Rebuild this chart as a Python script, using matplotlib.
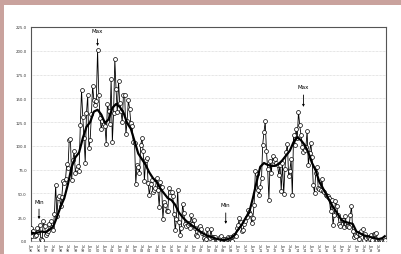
import numpy as np
import matplotlib
matplotlib.use('Agg')
import matplotlib.pyplot as plt
from matplotlib.patches import Rectangle

# monthly values, Jan 1996 .. Dec 2019
monthly = [
    13.2, 5.1, 10.6, 5.5, 6.3, 13.6, 9.4, 16.6, 1.8, 1.0, 20.6, 15.3,          # 1996
    6.6, 8.7, 10.0, 17.8, 21.3, 14.6, 12.0, 28.1, 59.0, 26.2, 44.9, 47.4,     # 1997
    36.7, 46.3, 63.0, 61.4, 64.7, 81.3, 76.6, 106.0, 106.8, 63.8, 85.1, 94.2, # 1998
    71.3, 76.2, 79.1, 73.3, 122.4, 158.4, 130.5, 107.8, 82.2, 134.2, 153.2, 97.3,  # 1999
    106.3, 133.2, 163.4, 148.1, 143.5, 147.4, 200.7, 154.0, 129.4, 117.3, 126.0, 123.2,  # 2000
    121.4, 102.4, 144.1, 136.8, 122.7, 170.2, 103.9, 135.1, 191.4, 159.4, 135.3, 167.9,  # 2001
    144.9, 136.4, 125.0, 153.3, 153.4, 112.1, 126.5, 147.8, 139.2, 123.8, 120.7, 103.6,  # 2002
    103.4, 60.1, 80.0, 78.0, 71.8, 100.6, 108.3, 94.5, 63.3, 85.2, 87.5, 60.5,   # 2003
    48.5, 59.5, 63.8, 51.1, 54.0, 56.2, 66.4, 53.2, 36.0, 62.4, 56.6, 23.3,      # 2004
    40.7, 38.0, 31.9, 31.7, 55.4, 51.5, 51.9, 47.3, 28.7, 11.1, 23.4, 53.6,      # 2005
    19.9, 6.4, 13.8, 39.3, 29.0, 18.1, 15.9, 16.8, 18.7, 13.7, 27.8, 17.7,       # 2006
    22.0, 13.8, 6.2, 4.8, 15.2, 15.6, 13.0, 8.1, 3.1, 1.2, 2.2, 13.1,            # 2007
    4.3, 2.7, 12.1, 3.8, 4.2, 4.4, 1.0, 0.7, 1.4, 3.8, 5.3, 1.0,                 # 2008
    2.0, 1.8, 0.9, 1.6, 3.8, 3.4, 4.6, 0.0, 5.5, 6.0, 5.5, 13.8,                 # 2009
    17.0, 24.2, 20.0, 10.3, 11.4, 17.6, 20.9, 25.5, 32.8, 30.6, 28.1, 18.9,      # 2010
    24.7, 38.2, 73.1, 70.7, 54.1, 48.1, 57.1, 65.8, 101.4, 114.4, 125.7, 94.9,   # 2011
    75.8, 42.8, 83.6, 71.8, 89.7, 83.9, 86.5, 81.9, 79.8, 69.3, 80.3, 53.0,      # 2012
    81.8, 49.4, 75.3, 94.1, 102.3, 68.3, 74.1, 85.8, 48.1, 111.3, 100.9, 117.4,  # 2013
    108.2, 135.7, 121.7, 111.8, 99.3, 93.7, 95.6, 98.5, 115.6, 80.0, 92.4, 103.0,  # 2014
    88.4, 59.1, 50.7, 71.8, 77.6, 55.2, 54.6, 53.5, 65.2, 52.8, 51.6, 48.1,      # 2015
    47.3, 46.8, 44.9, 31.5, 42.7, 17.0, 26.9, 41.7, 37.0, 27.7, 17.8, 15.4,      # 2016
    21.7, 21.9, 14.7, 26.8, 15.7, 15.9, 14.8, 27.1, 36.3, 11.0, 4.7, 6.8,        # 2017
    5.6, 8.9, 2.1, 7.4, 10.9, 12.9, 1.3, 7.2, 2.7, 4.1, 4.1, 2.6,                # 2018
    6.4, 0.7, 7.8, 7.6, 8.2, 1.0, 0.7, 0.4, 0.9, 0.3, 0.4, 1.2,                  # 2019
]

# smoothed curve, read every 3 months (plus the last month)
smooth_month = list(range(0, 288, 3)) + [287]
smooth = [
    9, 8, 9, 10, 9, 12, 15, 25, 36, 45, 60, 78,
    88, 93, 108, 120, 125, 136, 138, 133, 124, 128, 140, 144,
    141, 135, 124, 118, 105, 92, 86, 80, 72, 66, 62, 55,
    50, 45, 43, 38, 30, 25, 21, 18, 15, 12, 9, 7,
    5, 4, 2.5, 1.5, 1, 1.5, 3, 6, 12, 17, 24, 30,
    45, 62, 78, 82, 80, 79, 79, 81, 85, 90, 95, 104,
    109, 106, 101, 93, 82, 74, 62, 55, 48, 40, 34, 28,
    22, 20, 19, 18, 10, 8, 6, 5, 4, 3, 2, 3, 5,
]

tick_months = list(range(0, 288, 6))
tick_labels = [('Jan' if m % 12 == 0 else 'Jul') + '\n' + '%02d' % ((96 + m // 12) % 100)
               for m in tick_months]

pink = '#c9a29d'

fig = plt.figure(figsize=(4.01, 2.55), dpi=100)
fig.patch.set_facecolor(pink)
fig.patches.append(Rectangle((4 / 401, 0), 1, 249 / 255, transform=fig.transFigure,
                             facecolor='white', edgecolor='none', zorder=-5))

ax = fig.add_axes([31 / 401, 13 / 255, 355 / 401, 214 / 255])
ax.set_zorder(5)
ax.set_facecolor('white')

months = np.arange(len(monthly))
ax.plot(months, monthly, color='black', lw=0.6, marker='o', markersize=2.8,
        markerfacecolor='white', markeredgecolor='black', markeredgewidth=0.5, zorder=3)
ax.plot(smooth_month, smooth, color='black', lw=1.6, zorder=4)

ax.set_xlim(0, 288)
ax.set_ylim(0, 225)
ax.set_yticks(np.arange(0, 226, 25))
ax.set_yticklabels(['%.1f' % v for v in np.arange(0, 226, 25)])
ax.set_xticks(tick_months)
ax.set_xticklabels(tick_labels, linespacing=1.0)
ax.tick_params(axis='y', labelsize=2.8, length=0, pad=3, colors='#333333')
ax.tick_params(axis='x', labelsize=2.4, length=0, pad=2, colors='#333333')
ax.yaxis.grid(True, color='#cccccc', lw=0.5, ls=(0, (1, 1)))
for s in ax.spines.values():
    s.set_color('#555555')
    s.set_linewidth(0.8)
ax.spines['bottom'].set_color('#999999')
ax.spines['bottom'].set_linewidth(0.5)

arrow = dict(arrowstyle='-|>', color='black', lw=0.6, mutation_scale=3,
             shrinkA=2, shrinkB=0)
ax.annotate('Max', xy=(54, 205), xytext=(54, 221), ha='center', va='center',
            fontsize=4, arrowprops=arrow)
ax.annotate('Min', xy=(6.5, 23), xytext=(6.5, 42), ha='center', va='center',
            fontsize=4, arrowprops=arrow)
ax.annotate('Min', xy=(158, 18), xytext=(158, 38), ha='center', va='center',
            fontsize=4, arrowprops=arrow)
ax.annotate('Max', xy=(221, 141), xytext=(221, 162), ha='center', va='center',
            fontsize=4, arrowprops=arrow)

fig.savefig('out.png', dpi=100, facecolor=fig.get_facecolor())
